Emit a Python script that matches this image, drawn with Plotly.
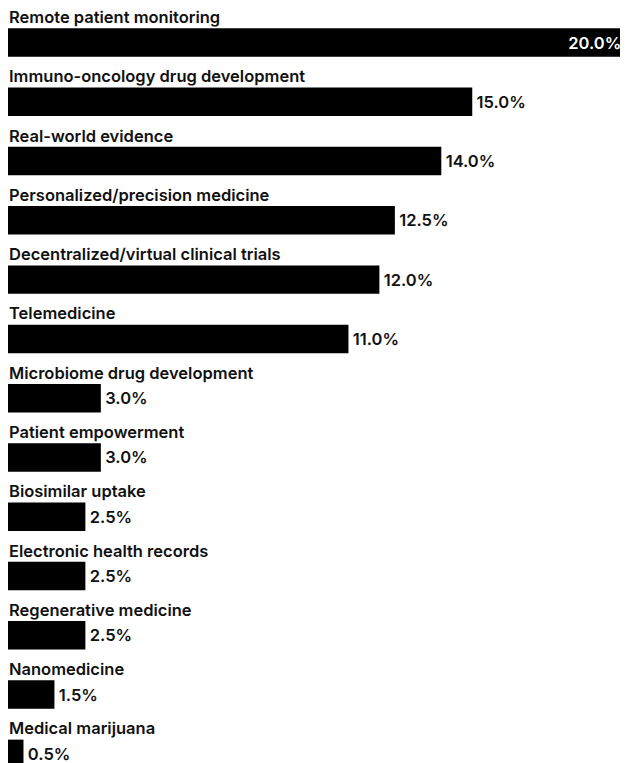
import plotly.graph_objects as go

categories = [
    "Remote patient monitoring",
    "Immuno-oncology drug development",
    "Real-world evidence",
    "Personalized/precision medicine",
    "Decentralized/virtual clinical trials",
    "Telemedicine",
    "Microbiome drug development",
    "Patient empowerment",
    "Biosimilar uptake",
    "Electronic health records",
    "Regenerative medicine",
    "Nanomedicine",
    "Medical marijuana",
]
values = [20.0, 15.0, 14.0, 12.5, 12.0, 11.0, 3.0, 3.0, 2.5, 2.5, 2.5, 1.5, 0.5]

FONT = "Inter"
vmax = max(values)
positions = ["inside" if v == vmax else "outside" for v in values]
text_colors = ["#ffffff" if v == vmax else "#111111" for v in values]
value_labels = [
    (f"{v:.1f}%\u2009" if v == vmax else f"\u200a{v:.1f}%") for v in values
]

idx = list(range(len(categories)))

fig = go.Figure(
    go.Bar(
        x=values,
        y=idx,
        orientation="h",
        width=0.48,
        marker=dict(color="#000000", line=dict(width=0)),
        text=value_labels,
        textposition=positions,
        insidetextanchor="end",
        textfont=dict(family=FONT, size=16.5, color=text_colors, weight=600),
        cliponaxis=False,
        hoverinfo="skip",
    )
)

for i, c in enumerate(categories):
    fig.add_annotation(
        x=0, y=i, xref="x", yref="y",
        text=c, showarrow=False,
        xanchor="left", yanchor="middle",
        xshift=-1, yshift=25.5,
        font=dict(family=FONT, size=16.5, color="#111111", weight=600),
    )

W, H = 620, 755
pitch = 59.28
top = -34.5 / pitch
bottom = top + H / pitch

fig.update_layout(
    width=W, height=H,
    margin=dict(l=0, r=1, t=0, b=0),
    paper_bgcolor="white", plot_bgcolor="white",
    showlegend=False,
    xaxis=dict(range=[0, 20], visible=False, fixedrange=True),
    yaxis=dict(range=[bottom, top], visible=False, fixedrange=True),
    uniformtext=dict(mode=False),
)

fig.write_html("out.html")
